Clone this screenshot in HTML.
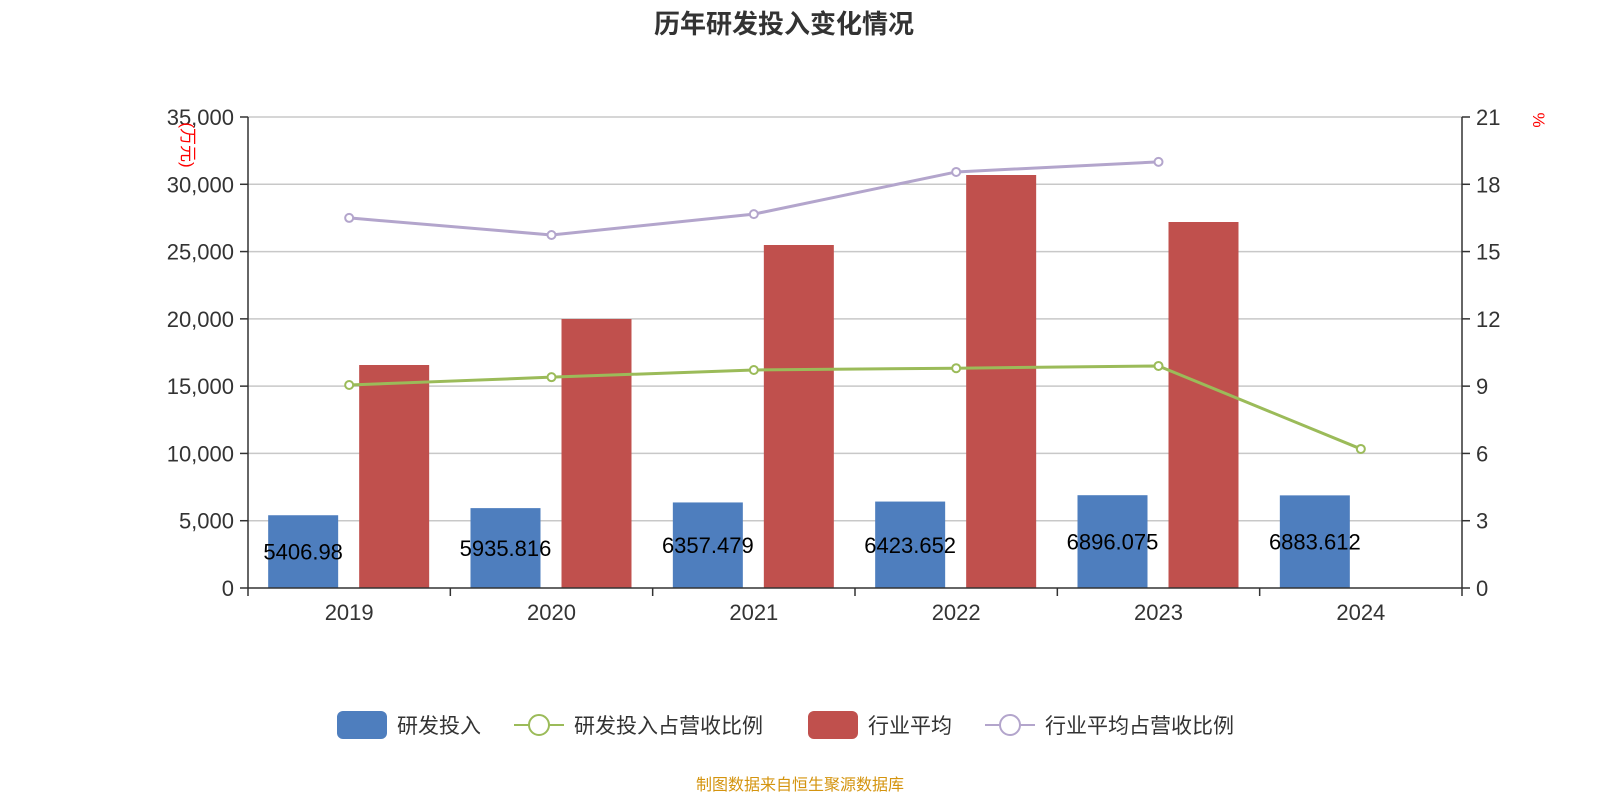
<!DOCTYPE html>
<html><head><meta charset="utf-8"><style>
body{margin:0;background:#fff;font-family:"Liberation Sans","Noto Sans CJK SC",sans-serif;}
</style></head><body>
<svg width="1600" height="800" xmlns="http://www.w3.org/2000/svg" font-family="Liberation Sans, Noto Sans CJK SC, sans-serif">
<text x="784" y="33" text-anchor="middle" font-size="26" font-weight="bold" fill="#333">历年研发投入变化情况</text>
<g id="grid"></g><g id="bars"></g><g id="lines"></g><g id="axes"></g>
<text transform="translate(182,145) rotate(90)" text-anchor="middle" font-size="17" fill="red">(万元)</text>
<text transform="translate(1533,120) rotate(90)" text-anchor="middle" font-size="17" fill="red">%</text>
<g font-size="21" fill="#333">
<rect x="337" y="711" width="50" height="28" rx="6" fill="#4e7ebe"/>
<text x="397" y="733">研发投入</text>
<line x1="514" y1="725" x2="564" y2="725" stroke="#9bbb59" stroke-width="2"/><circle cx="539" cy="725" r="10" fill="#fff" stroke="#9bbb59" stroke-width="2"/>
<text x="574" y="733">研发投入占营收比例</text>
<rect x="808" y="711" width="50" height="28" rx="6" fill="#c0504d"/>
<text x="868" y="733">行业平均</text>
<line x1="985" y1="725" x2="1035" y2="725" stroke="#b3a5cc" stroke-width="2"/><circle cx="1010" cy="725" r="10" fill="#fff" stroke="#b3a5cc" stroke-width="2"/>
<text x="1045" y="733">行业平均占营收比例</text>
</g>
<text x="800" y="790" text-anchor="middle" font-size="16" fill="#d4940f">制图数据来自恒生聚源数据库</text>
</svg>
<script>
const categories=["2019","2020","2021","2022","2023","2024"];
const rdValues=[5406.98,5935.816,6357.479,6423.652,6896.075,6883.612];
const industryValues=[16571,19989,25488,30690,27197,null];
const rdRatio=[9.05,9.4,9.72,9.8,9.9,6.2];
const industryRatio=[16.5,15.74,16.67,18.55,19.0,null];
const leftTicks=[0,5000,10000,15000,20000,25000,30000,35000];
const rightTicks=[0,3,6,9,12,15,18,21];
const NS="http://www.w3.org/2000/svg";
const X0=248,X1=1462,Y0=588,Y1=117;
const cw=(X1-X0)/categories.length;
const xc=i=>X0+cw*(i+0.5);
const yL=v=>Y0-v/35000*(Y0-Y1);
const yR=v=>Y0-v/21*(Y0-Y1);
function mk(tag,attrs,parent,txt){const e=document.createElementNS(NS,tag);for(const k in attrs)e.setAttribute(k,attrs[k]);if(txt!==undefined)e.textContent=txt;document.getElementById(parent).appendChild(e);return e;}
leftTicks.forEach((t,i)=>{
 const y=yL(t);
 if(t>0){const g=mk('line',{x1:X0,x2:X1,y1:y,y2:y,stroke:'#c8c8c8','stroke-width':1.5},'grid');
 
 }
 mk('line',{x1:X0-8,x2:X0,y1:y,y2:y,stroke:'#333','stroke-width':1.5},'axes');
 const l=mk('text',{x:X0-14,y:y+8,'text-anchor':'end','font-size':22,fill:'#333'},'axes',t.toLocaleString('en-US'));
 
 
});
rightTicks.forEach(t=>{
 const y=yR(t);
 mk('line',{x1:X1,x2:X1+8,y1:y,y2:y,stroke:'#333','stroke-width':1.5},'axes');
 const l=mk('text',{x:X1+14,y:y+8,'font-size':22,fill:'#333'},'axes',String(t));
 
 
});
mk('line',{x1:X0,x2:X0,y1:Y1,y2:Y0,stroke:'#333','stroke-width':1.5},'axes');
mk('line',{x1:X1,x2:X1,y1:Y1,y2:Y0,stroke:'#333','stroke-width':1.5},'axes');
mk('line',{x1:X0,x2:X1,y1:Y0,y2:Y0,stroke:'#333','stroke-width':1.5},'axes');
for(let i=0;i<=categories.length;i++){const x=X0+cw*i;mk('line',{x1:x,x2:x,y1:Y0,y2:Y0+8,stroke:'#333','stroke-width':1.5},'axes');}
categories.forEach((c,i)=>{
 const l=mk('text',{x:xc(i),y:Y0+32,'text-anchor':'middle','font-size':22,fill:'#333'},'axes',c);
 
 
 const v=rdValues[i];
 const b=mk('rect',{x:xc(i)-81,y:yL(v),width:70,height:Y0-yL(v),fill:'#4e7ebe'},'bars');
 
 
 const t=mk('text',{x:xc(i)-46,y:(yL(v)+Y0)/2+8,'text-anchor':'middle','font-size':22,fill:'#000'},'bars',String(v));
 
 
 const r=industryValues[i];
 if(r!=null){const rb=mk('rect',{x:xc(i)+10,y:yL(r),width:70,height:Y0-yL(r),fill:'#c0504d'},'bars');
 
 }
});
function line(arr,color,name){
 const pts=[];arr.forEach((v,i)=>{if(v!=null)pts.push([xc(i),yR(v)]);});
 const p=mk('polyline',{points:pts.map(p=>p.join(',')).join(' '),fill:'none',stroke:color,'stroke-width':3},'lines');
 
 
 pts.forEach(q=>{const c=mk('circle',{cx:q[0],cy:q[1],r:4,fill:'#fff',stroke:color,'stroke-width':2},'lines');
 
 });
}
line(industryRatio,'#b3a5cc','industry-ratio-line');
line(rdRatio,'#9bbb59','rd-ratio-line');
</script>
</body></html>
